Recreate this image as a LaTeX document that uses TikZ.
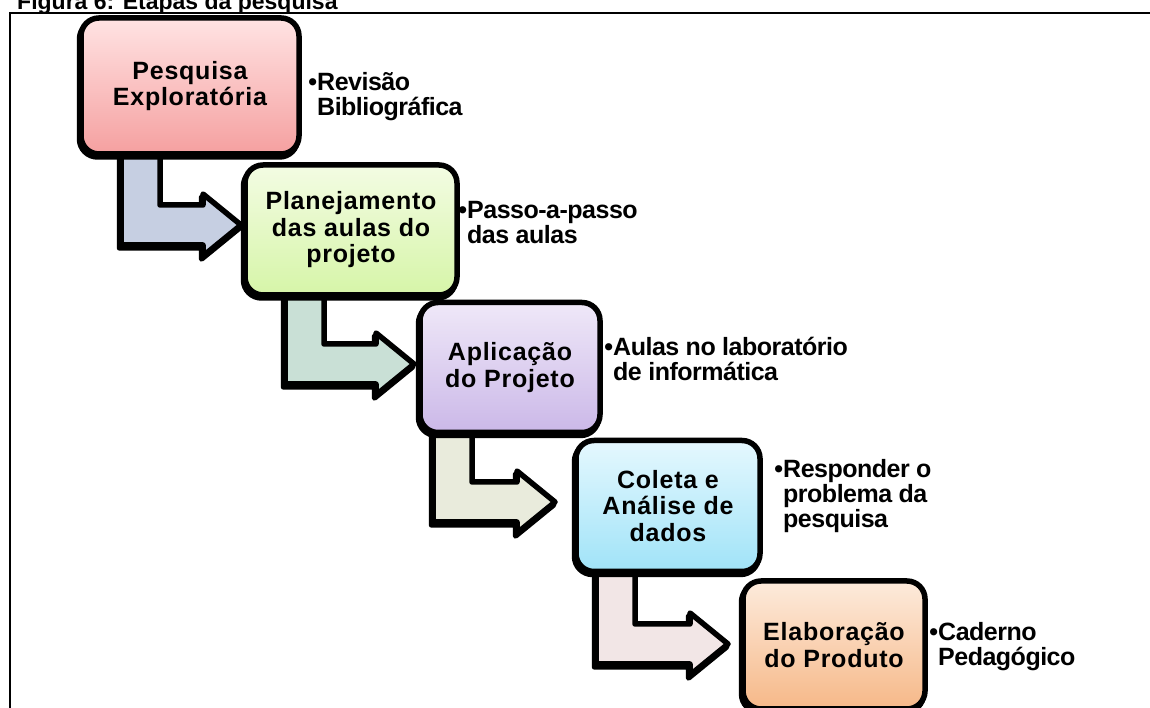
\documentclass[tikz,border=0pt]{standalone}
\usepackage{fontspec}
\setmainfont{Liberation Sans}
\newfontfamily\boxfnt{Liberation Sans}[LetterSpace=3]
\newfontfamily\sidefnt{Liberation Sans}[LetterSpace=-2]
\usetikzlibrary{calc}
\definecolor{aone}{HTML}{C6CFE2}
\definecolor{atwo}{HTML}{C9E0D6}
\definecolor{athree}{HTML}{E9EBDC}
\definecolor{afour}{HTML}{F2E6E6}
\definecolor{bonetop}{HTML}{FFE3E3}\definecolor{bonebot}{HTML}{F5A0A0}
\definecolor{btwotop}{HTML}{F3FCE3}\definecolor{btwobot}{HTML}{D6F5A8}
\definecolor{bthreetop}{HTML}{EFE8F8}\definecolor{bthreebot}{HTML}{CBB8E8}
\definecolor{bfourtop}{HTML}{E5F8FE}\definecolor{bfourbot}{HTML}{A0E3F8}
\definecolor{bfivetop}{HTML}{FDEBDC}\definecolor{bfivebot}{HTML}{F6B888}
\newcommand\bentarrow[4]{%
  \draw[arrowbody, fill=#4] let \p1=(#2), \p2=(#1.center), \p3=(#1.west) in
  (\x3+#3,\y2) -- (\x3+#3,\y1-20) -- (\x1-38,\y1-20) -- (\x1-38,\y1-31) -- (\p1)
  -- (\x1-38,\y1+31) -- (\x1-38,\y1+20) -- (\x3+#3+39,\y1+20) -- (\x3+#3+39,\y2) -- cycle;}
\begin{document}
\begin{tikzpicture}[x=1pt,y=1pt,
  stepbox/.style={draw=black, line width=5.5pt, rounded corners=18pt, outer sep=0pt,
    inner sep=0pt, align=center, font=\boxfnt\bfseries\fontsize{25}{26.5}\selectfont,
    preaction={draw=black, line width=5.5pt, rounded corners=18pt,
      transform canvas={xshift=-1.5pt, yshift=-3pt}}},
  arrowbody/.style={draw=black, line width=5.5pt, line join=round,
    preaction={draw=black, line width=5.5pt, line join=round,
      transform canvas={xshift=-1.5pt, yshift=-3pt}}},
  sidetext/.style={anchor=north west, inner sep=0pt, align=left,
    font=\sidefnt\bfseries\fontsize{25}{25}\selectfont},
  titletext/.style={anchor=base west, inner sep=0pt, font=\bfseries\fontsize{23}{25}\selectfont}]
\useasboundingbox (0,0) rectangle (1150,708);
% title and frame
\node[titletext] (title) at (17,698.5) {Figura 6: Etapas da pesquisa};
\coordinate (fbl) at (9.5,-20);
\coordinate (ftl) at (9.5,694.5);
\coordinate (ftr) at (1170,694.5);
\draw[line width=2pt] (fbl) -- (ftl) -- (ftr);
% box positions
\path (190,622) coordinate (c1) (351,478) coordinate (c2) (510,340.5) coordinate (c3)
      (668,202) coordinate (c4) (834,63) coordinate (c5);
% invisible guides with the boxes' sizes, for the arrows
\path node[minimum width=218pt, minimum height=136pt, inner sep=0pt, outer sep=0pt] (g1) at (c1) {}
  node[minimum width=212pt, minimum height=130pt, inner sep=0pt, outer sep=0pt] (g2) at (c2) {}
  node[minimum width=180pt, minimum height=130pt, inner sep=0pt, outer sep=0pt] (g3) at (c3) {}
  node[minimum width=184pt, minimum height=131pt, inner sep=0pt, outer sep=0pt] (g4) at (c4) {};
% arrow tips
\coordinate (t1) at (241,483);
\coordinate (t2) at (414,344);
\coordinate (t3) at (555,206);
\coordinate (t4) at (728,64);
\bentarrow{g1}{t1}{40}{aone}
\bentarrow{g2}{t2}{40}{atwo}
\bentarrow{g3}{t3}{13}{athree}
\bentarrow{g4}{t4}{20}{afour}
% boxes
\node[stepbox, top color=bonetop, bottom color=bonebot, minimum width=218pt, minimum height=136pt] (b1) at (c1) {Pesquisa\\Exploratória};
\node[stepbox, top color=btwotop, bottom color=btwobot, minimum width=212pt, minimum height=130pt] (b2) at (c2) {Planejamento\\das aulas do\\projeto};
\node[stepbox, top color=bthreetop, bottom color=bthreebot, minimum width=180pt, minimum height=130pt] (b3) at (c3) {Aplicação\\do Projeto};
\node[stepbox, top color=bfourtop, bottom color=bfourbot, minimum width=184pt, minimum height=131pt] (b4) at (c4) {Coleta e\\Análise de\\dados};
\node[stepbox, top color=bfivetop, bottom color=bfivebot, minimum width=182pt, minimum height=128pt] (b5) at (c5) {Elaboração\\do Produto};
% side texts
\node[sidetext] (s1) at (317,640) {\rule{0pt}{22pt}\llap{•}Revisão\\Bibliográfica};
\node[sidetext] (s2) at (467,512) {\rule{0pt}{22pt}\llap{•}Passo-a-passo\\das aulas};
\node[sidetext] (s3) at (613,375) {\rule{0pt}{22pt}\llap{•}Aulas no laboratório\\de informática};
\node[sidetext] (s4) at (783,253) {\rule{0pt}{22pt}\llap{•}Responder o\\problema da\\pesquisa};
\node[sidetext] (s5) at (938,90) {\rule{0pt}{22pt}\llap{•}Caderno\\Pedagógico};
\end{tikzpicture}
\end{document}
